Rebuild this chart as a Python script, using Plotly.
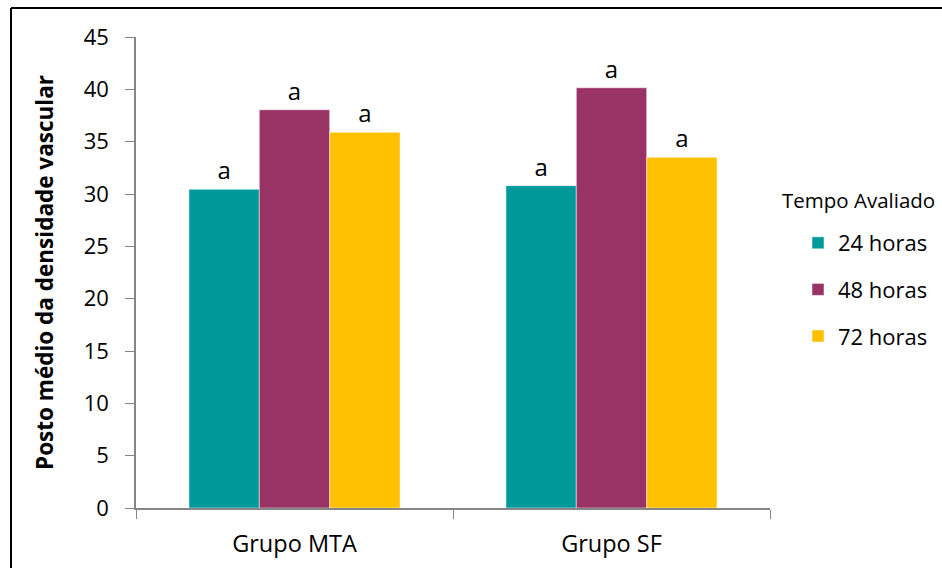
import plotly.graph_objects as go

categories = ["Grupo MTA", "Grupo SF"]
series_names = ["24 horas", "48 horas", "72 horas"]
values_24 = [30.45, 30.8]
values_48 = [38.05, 40.15]
values_72 = [35.9, 33.5]
bar_labels = ["a", "a"]
colors = ["#009999", "#993366", "#FFC000"]
y_ticks = [0, 5, 10, 15, 20, 25, 30, 35, 40, 45]
legend_title = "Tempo Avaliado"
y_title = "Posto médio da densidade vascular"

FONT = "Open Sans"
W, H = 942, 568
L, R, T, B = 136, 172, 37, 60

fig = go.Figure()
for name, vals, col in zip(series_names, [values_24, values_48, values_72], colors):
    fig.add_trace(go.Bar(
        x=categories, y=vals, name=name, legendgroup=name,
        marker=dict(color=col, line=dict(color="white", width=0.5)),
        text=bar_labels, textposition="outside", cliponaxis=False,
        textfont=dict(family=FONT, size=24, color="black"),
    ))

pw = W - L - R
ph = H - T - B
def px(x):
    return (x - L) / pw
def py(y):
    return (H - B - y) / ph

fig.update_layout(
    width=W, height=H,
    margin=dict(l=L, r=R, t=T, b=B, autoexpand=False),
    paper_bgcolor="white", plot_bgcolor="white",
    barmode="group", bargap=0.334, bargroupgap=0,
    font=dict(family=FONT, color="black"),
    showlegend=True,
    legend=dict(
        font=dict(family=FONT, size=22),
        x=px(798), xanchor="left", y=py(222), yanchor="top",
        tracegroupgap=15, itemwidth=30, bgcolor="rgba(0,0,0,0)",
    ),
    annotations=[dict(
        text=legend_title, xref="paper", yref="paper",
        x=px(780), y=py(200), xanchor="left", yanchor="middle",
        showarrow=False, font=dict(family=FONT, size=20.5, color="black"),
    )],
    xaxis=dict(
        showline=True, linecolor="#868686", linewidth=1.5,
        ticks="outside", ticklen=9, tickcolor="#868686", tickson="boundaries",
        tickfont=dict(family=FONT, size=23.5, color="black"),
        ticklabelstandoff=14, automargin=False,
        showgrid=False,
    ),
    yaxis=dict(
        range=[0, 45], tickvals=y_ticks,
        showline=True, linecolor="#868686", linewidth=1.5,
        ticks="outside", ticklen=9, tickcolor="#868686",
        tickfont=dict(family=FONT, size=22, color="black"),
        ticklabelstandoff=12, automargin=False,
        showgrid=False, zeroline=False,
        title=dict(text="<b>" + y_title + "</b>",
                   font=dict(family=FONT, size=22.5, color="black"), standoff=24),
    ),
    shapes=[
        dict(type="line", xref="paper", yref="paper",
             x0=px(11), x1=px(W + 5), y0=py(8), y1=py(8),
             line=dict(color="black", width=2)),
        dict(type="line", xref="paper", yref="paper",
             x0=px(11), x1=px(11), y0=py(8), y1=py(H + 5),
             line=dict(color="black", width=2)),
    ],
)

fig.write_html("out.html")
